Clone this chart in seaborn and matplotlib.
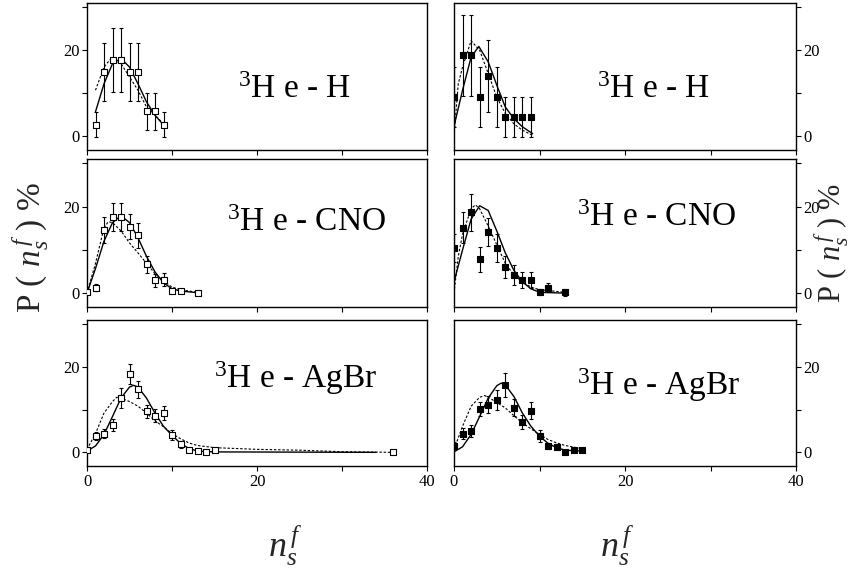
import matplotlib
matplotlib.use("Agg")
import matplotlib.pyplot as plt
import pandas as pd
import seaborn as sns

# ---------------- data ----------------
# 3He-H, open squares (left) and filled squares (right)
hh_open_n = [1, 2, 3, 4, 5, 6, 7, 8, 9]
hh_open_p = [2.7, 15.0, 17.8, 17.8, 15.0, 15.0, 5.8, 5.8, 2.7]
hh_open_e = [2.9, 6.7, 7.5, 7.5, 6.7, 6.7, 4.3, 4.3, 2.9]
hh_open_fit_n = [1, 2, 3, 4, 5, 6, 7, 8, 9]
hh_open_fit = [5.7, 12.2, 16.9, 18.1, 16.1, 12.2, 8.0, 4.9, 2.6]
hh_open_alt_n = [1, 2, 2.7, 3, 4, 5, 6, 7, 8, 9]
hh_open_alt = [10.7, 16.1, 17.8, 17.7, 16.9, 13.8, 10.7, 6.8, 4.9, 2.9]

hh_fill_n = [0, 1, 2, 3, 4, 5, 6, 7, 8, 9]
hh_fill_p = [9.1, 18.8, 18.8, 9.1, 14.0, 9.1, 4.5, 4.5, 4.5, 4.5]
hh_fill_e = [6.9, 9.5, 9.5, 6.9, 8.4, 6.9, 4.7, 4.7, 4.7, 4.7]
hh_fill_fit_n = [0, 1, 2, 2.9, 4, 5, 6, 7, 8, 9.2]
hh_fill_fit = [2.3, 10.7, 18.4, 20.9, 17.3, 11.9, 6.8, 4.1, 2.2, 0.6]
hh_fill_alt_n = [0, 0.5, 1, 2, 3, 4, 5, 6, 7, 8, 9.2]
hh_fill_alt = [0.0, 12.2, 16.1, 22.2, 20.0, 14.6, 9.1, 5.3, 2.9, 1.4, 0.2]

# 3He-CNO
hc_open_n = [0, 1, 2, 3, 4, 5, 6, 7, 8, 9, 10, 11, 13]
hc_open_p = [0.3, 1.25, 14.6, 17.6, 17.6, 15.3, 13.4, 6.7, 3.0, 3.1, 0.6, 0.5, 0.1]
hc_open_e = [0.3, 0.8, 3.1, 3.3, 3.3, 2.9, 2.9, 2.0, 1.5, 1.5, 0.6, 0.5, 0.3]
hc_open_fit_n = [0, 1, 2, 3, 4, 5, 6, 7, 8, 9, 10, 11, 13]
hc_open_fit = [0.0, 5.7, 12.0, 16.3, 17.9, 16.3, 12.8, 8.5, 4.9, 2.4, 1.0, 0.5, 0.1]
hc_open_alt_n = [0, 1, 2, 2.5, 3, 4, 5, 6, 7, 8, 9, 10, 11, 13]
hc_open_alt = [0.0, 6.9, 15.1, 16.5, 16.3, 14.4, 11.6, 9.3, 6.9, 4.5, 2.8, 1.4, 0.8, 0.2]

hc_fill_n = [0, 1, 2, 3, 4, 5, 6, 7, 8, 9, 10, 11, 13]
hc_fill_p = [10.4, 15.1, 18.7, 7.8, 14.1, 10.4, 6.0, 4.2, 3.1, 3.1, 0.2, 1.25, 0.2]
hc_fill_e = [3.3, 3.6, 4.3, 2.9, 3.3, 3.3, 2.6, 2.4, 1.8, 1.8, 0.7, 1.0, 0.8]
hc_fill_fit_n = [0, 1, 2, 3, 4, 5, 6, 7, 8, 9, 10, 13]
hc_fill_fit = [2.6, 10.0, 17.1, 20.2, 19.1, 14.4, 9.3, 5.3, 2.6, 1.0, 0.2, 0.0]
hc_fill_alt_n = [0, 0.5, 1, 2, 2.5, 3, 4, 5, 6, 7, 8, 9, 10, 13]
hc_fill_alt = [0.0, 8.5, 13.6, 19.5, 20.4, 19.5, 15.5, 11.2, 6.9, 4.2, 2.6, 1.4, 0.8, 0.2]

# 3He-AgBr
ha_open_n = [0, 1, 2, 3, 4, 5, 6, 7, 8, 9, 10, 11, 12, 13, 14, 15, 36]
ha_open_p = [0.5, 3.8, 4.4, 6.4, 12.7, 18.3, 14.8, 9.6, 8.6, 9.2, 4.0, 1.9, 0.5, 0.3, 0.0, 0.5, 0.0]
ha_open_e = [0.4, 1.0, 1.0, 1.3, 2.4, 2.4, 2.0, 1.6, 1.6, 1.6, 1.2, 0.8, 0.4, 0.3, 0.2, 0.3, 0.2]
ha_open_fit_n = [0, 1, 2, 3, 4, 5, 5.5, 6, 7, 8, 9, 10, 11, 12, 13, 15, 34]
ha_open_fit = [0.3, 1.5, 4.2, 8.4, 12.7, 15.3, 15.7, 15.3, 12.7, 9.2, 6.1, 4.0, 2.1, 0.9, 0.3, 0.1, 0.0]
ha_open_alt_n = [0, 1, 2, 3, 3.5, 4, 5, 6, 7, 8, 9, 10, 11, 12, 13, 15, 20, 25, 30, 36]
ha_open_alt = [0.7, 4.4, 9.2, 11.9, 12.9, 12.7, 11.9, 10.8, 9.2, 7.4, 6.0, 4.4, 3.2, 2.2, 1.6, 1.1, 0.7, 0.5, 0.15, 0.0]

ha_fill_n = [0, 1, 2, 3, 4, 5, 6, 7, 8, 9, 10, 11, 12, 13, 14, 15]
ha_fill_p = [1.6, 4.4, 5.1, 10.2, 11.2, 12.3, 15.8, 10.5, 7.1, 9.8, 3.8, 1.5, 1.3, 0.1, 0.5, 0.5]
ha_fill_e = [0.8, 1.2, 1.4, 1.7, 1.9, 2.3, 2.8, 2.1, 1.6, 2.0, 1.4, 0.8, 0.6, 0.4, 0.4, 0.4]
ha_fill_fit_n = [0, 1, 2, 3, 4, 5, 5.5, 6, 7, 8, 9, 10, 11, 12, 13, 15]
ha_fill_fit = [0.1, 1.3, 4.2, 8.4, 12.7, 15.6, 16.2, 15.8, 13.1, 9.2, 6.1, 3.8, 2.1, 1.1, 0.5, 0.3]
ha_fill_alt_n = [0, 1, 2, 3, 3.6, 4, 5, 6, 7, 8, 9, 10, 11, 12, 13, 15]
ha_fill_alt = [0.7, 6.1, 10.8, 12.9, 13.3, 12.9, 11.7, 10.4, 8.6, 6.9, 5.5, 4.2, 3.0, 2.2, 1.6, 0.85]

panel_titles = ["$^{3}$H e - H", "$^{3}$H e - CNO", "$^{3}$H e - AgBr"]
x_ticks = [0, 10, 20, 30, 40]
x_tick_labels = ["0", "", "20", "", "40"]
y_ticks = [0, 10, 20, 30]
y_tick_labels = ["0", "", "20", ""]

# ---------------- style ----------------
sns.set_theme(style="ticks")
plt.rcParams["font.family"] = ["Liberation Serif", "DejaVu Serif"]
plt.rcParams["mathtext.fontset"] = "custom"
plt.rcParams["mathtext.rm"] = "Liberation Serif"
plt.rcParams["mathtext.it"] = "Liberation Serif:italic"
plt.rcParams["mathtext.bf"] = "Liberation Serif:bold"

W, H = 851, 572
fig = plt.figure(figsize=(W / 100, H / 100), dpi=100)


def frac(x0, y0, x1, y1):
    return [x0 / W, 1 - y1 / H, (x1 - x0) / W, (y1 - y0) / H]


rows_px = [(3, 150), (159, 307), (320, 466)]
cols_px = [(87, 427), (454, 796)]

left_data = [
    (hh_open_n, hh_open_p, hh_open_e, hh_open_fit_n, hh_open_fit, hh_open_alt_n, hh_open_alt),
    (hc_open_n, hc_open_p, hc_open_e, hc_open_fit_n, hc_open_fit, hc_open_alt_n, hc_open_alt),
    (ha_open_n, ha_open_p, ha_open_e, ha_open_fit_n, ha_open_fit, ha_open_alt_n, ha_open_alt),
]
right_data = [
    (hh_fill_n, hh_fill_p, hh_fill_e, hh_fill_fit_n, hh_fill_fit, hh_fill_alt_n, hh_fill_alt),
    (hc_fill_n, hc_fill_p, hc_fill_e, hc_fill_fit_n, hc_fill_fit, hc_fill_alt_n, hc_fill_alt),
    (ha_fill_n, ha_fill_p, ha_fill_e, ha_fill_fit_n, ha_fill_fit, ha_fill_alt_n, ha_fill_alt),
]

# title anchors (data coords: left edge of text, baseline)
title_pos = {
    (0, 0): (17.8, 8.8), (0, 1): (16.7, 8.8),
    (1, 0): (16.5, 14.4), (1, 1): (14.4, 15.5),
    (2, 0): (15.0, 15.1), (2, 1): (14.4, 13.5),
}

for r, (ry0, ry1) in enumerate(rows_px):
    for c, (cx0, cx1) in enumerate(cols_px):
        ax = fig.add_axes(frac(cx0, ry0, cx1, ry1))
        n, p, e, fn, fv, an, av = (left_data if c == 0 else right_data)[r]

        sns.lineplot(x=an, y=av, ax=ax, color="black", lw=0.8,
                     linestyle=(0, (2.2, 1.6)), zorder=2)
        sns.lineplot(x=fn, y=fv, ax=ax, color="black", lw=1.0, zorder=2)

        ax.errorbar(n, p, yerr=e, fmt="none", ecolor="black",
                    elinewidth=0.8, capsize=1.6, capthick=0.8, zorder=3)
        face = "white" if c == 0 else "black"
        pts = pd.DataFrame({"n": n, "p": p})
        sns.scatterplot(data=pts, x="n", y="p", ax=ax, marker="s", s=14,
                        facecolor=face, edgecolor="black", linewidth=0.8,
                        zorder=4)

        ax.set_xlim(0, 40)
        ax.set_ylim(-3.2, 31)
        ax.set_xlabel("")
        ax.set_ylabel("")
        ax.set_xticks(x_ticks)
        ax.set_yticks(y_ticks)
        if r == 2:
            ax.set_xticklabels(x_tick_labels)
        else:
            ax.set_xticklabels([])
        if c == 0:
            ax.set_yticklabels(y_tick_labels)
        else:
            ax.yaxis.tick_right()
            ax.set_yticklabels(y_tick_labels)
        ax.tick_params(direction="out", length=3.5, width=0.8,
                       labelsize=12, colors="black", pad=2)
        for s in ax.spines.values():
            s.set_visible(True)
            s.set_linewidth(1.0)
            s.set_color("black")

        tx, ty = title_pos[(r, c)]
        ax.text(tx, ty, panel_titles[r], fontsize=24, ha="left",
                va="baseline", color="black")

# axis labels
ylab = "P ( $n_s^{\\,f}$ ) %"
fig.text(30 / W, 1 - 248 / H, ylab, rotation=90, fontsize=24,
         ha="center", va="center")
fig.text(831 / W, 1 - 243 / H, ylab, rotation=90, fontsize=22,
         ha="center", va="center")
xlab = "$n_s^{\\,f}$"
fig.text(268 / W, 1 - 557 / H, xlab, fontsize=26, ha="left", va="baseline")
fig.text(600 / W, 1 - 557 / H, xlab, fontsize=26, ha="left", va="baseline")

fig.savefig("out.png", dpi=100)
